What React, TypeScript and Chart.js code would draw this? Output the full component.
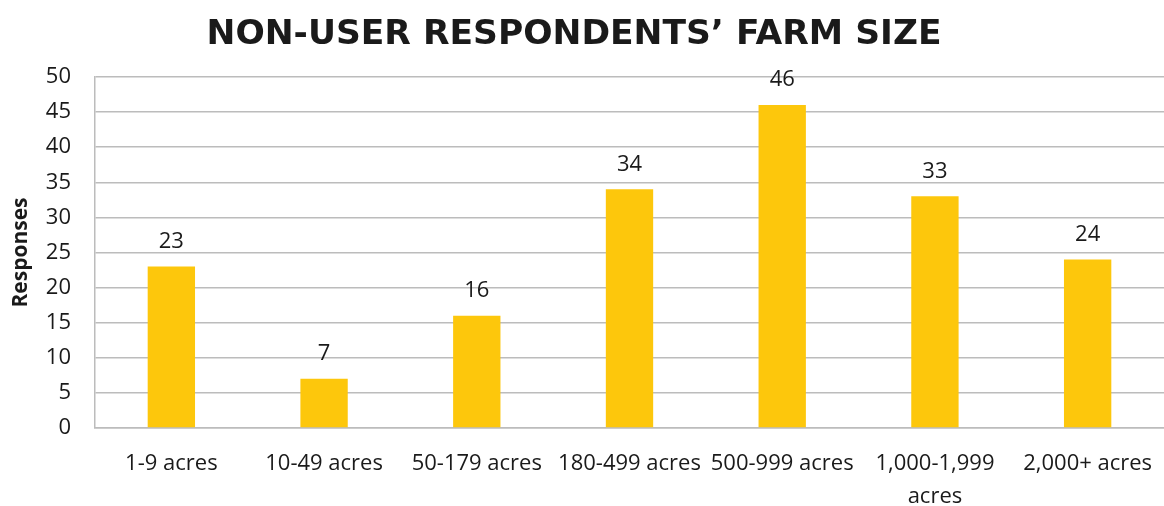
import React, { useEffect, useRef } from "react";
import { Chart, registerables } from "chart.js";

Chart.register(...registerables);

const categories: (string | string[])[] = [
  "1-9 acres",
  "10-49 acres",
  "50-179 acres",
  "180-499 acres",
  "500-999 acres",
  ["1,000-1,999", "acres"],
  "2,000+ acres",
];
const responses = [23, 7, 16, 34, 46, 33, 24];
const chartTitle = "NON-USER RESPONDENTS\u2019 FARM SIZE";
const yAxisTitle = "Responses";

const BAR = "#FDC70C";
const TEXT = "#1a1a1a";
const GRID = "#bcbcbc";

const valueLabels = {
  id: "valueLabels",
  afterDatasetsDraw(chart: any) {
    const ctx = chart.ctx;
    const meta = chart.getDatasetMeta(0);
    ctx.save();
    ctx.font = "22px 'Open Sans'";
    ctx.fillStyle = TEXT;
    ctx.textAlign = "center";
    ctx.textBaseline = "bottom";
    meta.data.forEach((el: any, i: number) => {
      ctx.fillText(String(responses[i]), el.x, el.y - 14);
    });
    ctx.restore();
  },
};

const titleText = {
  id: "titleText",
  afterDraw(chart: any) {
    const ctx = chart.ctx;
    ctx.save();
    ctx.font = "bold 34.5px 'DejaVu Sans'";
    ctx.fillStyle = TEXT;
    ctx.textAlign = "center";
    ctx.textBaseline = "alphabetic";
    ctx.fillText(chartTitle, 574, 44);
    ctx.restore();
  },
};

export default function App() {
  const ref = useRef<HTMLCanvasElement | null>(null);
  useEffect(() => {
    document.body.style.margin = "0";
    const chart = new Chart(ref.current!, {
      type: "bar",
      data: {
        labels: categories as any,
        datasets: [
          {
            data: responses,
            backgroundColor: BAR,
            barPercentage: 0.31,
            categoryPercentage: 1,
          },
        ],
      },
      options: {
        animation: false,
        responsive: false,
        maintainAspectRatio: false,
        layout: { padding: { left: 0, right: 0, top: 77, bottom: 0 } },
        plugins: {
          legend: { display: false },
          tooltip: { enabled: false },
          title: { display: false },
        },
        scales: {
          x: {
            grid: { display: false, drawTicks: false },
            border: { display: true, color: GRID, width: 1.5 },
            ticks: {
              color: TEXT,
              font: { family: "'Open Sans'", size: 22, lineHeight: 1.5 },
              padding: 19,
              maxRotation: 0,
              autoSkip: false,
            },
            afterFit: (s: any) => {
              s.height = 78;
              s.paddingRight = 0;
              s.paddingLeft = 0;
            },
          },
          y: {
            min: 0,
            max: 50,
            ticks: {
              stepSize: 5,
              color: TEXT,
              font: { family: "'Open Sans'", size: 22 },
              padding: 24,
            },
            grid: { color: GRID, lineWidth: 1.5, drawTicks: false },
            border: { display: true, color: GRID, width: 1.5 },
            title: {
              display: true,
              text: yAxisTitle,
              color: TEXT,
              font: { family: "'Open Sans'", size: 21, weight: "bold" },
              padding: { top: 8, bottom: 0 },
            },
            afterFit: (s: any) => {
              s.width = 95;
              s.paddingTop = 0;
              s.paddingBottom = 0;
            },
          },
        },
      },
      plugins: [valueLabels, titleText],
    });
    return () => chart.destroy();
  }, []);
  return (
    <div style={{ width: 1164, height: 506, background: "#fff" }}>
      <canvas ref={ref} width={1164} height={506} />
    </div>
  );
}
